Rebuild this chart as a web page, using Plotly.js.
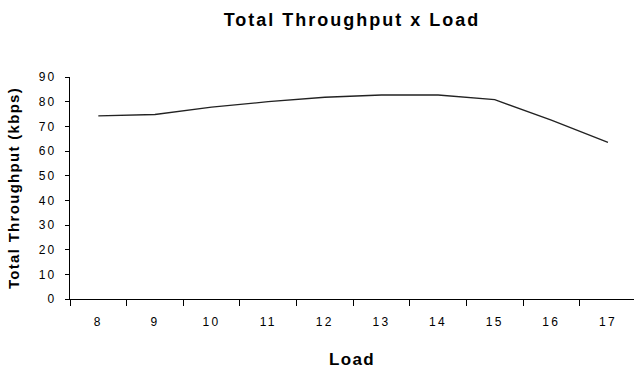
<!DOCTYPE html>
<html>
<head>
<meta charset="utf-8">
<script src="https://cdn.plot.ly/plotly-3.0.1.min.js"></script>
<style>
  html, body { margin: 0; padding: 0; background: #fff; }
  #chart { width: 634px; height: 371px; }
  /* wide tracking on the bold titles and the tick numbers */
  .gtitle { letter-spacing: 2px; }
  .g-xtitle text, .g-ytitle text { letter-spacing: 1.3px; }
  .xtick text, .ytick text { letter-spacing: 2.3px; }
</style>
</head>
<body>
<div id="chart"></div>
<script>
// Load levels (categories) and total throughput in kbps
const loadLevels = ['8', '9', '10', '11', '12', '13', '14', '15', '16', '17'];
const throughputKbps = [74.2, 74.8, 77.8, 80.0, 81.8, 82.7, 82.7, 80.8, 72.5, 63.5];
const yTickValues = [0, 10, 20, 30, 40, 50, 60, 70, 80, 90];

const trace = {
  x: loadLevels,
  y: throughputKbps,
  type: 'scatter',
  mode: 'lines',
  line: { color: '#222222', width: 1.3 },
  hoverinfo: 'x+y'
};

const axisFont = { family: 'Arial, "Liberation Sans", sans-serif', size: 12, color: '#000' };

const layout = {
  width: 634,
  height: 371,
  paper_bgcolor: '#ffffff',
  plot_bgcolor: '#ffffff',
  margin: { l: 70, r: 0, t: 77, b: 72, pad: 0 },
  showlegend: false,
  font: axisFont,
  title: {
    text: 'Total Throughput x Load',
    font: { family: 'Arial, "Liberation Sans", sans-serif', size: 18, weight: 'bold', color: '#000' },
    x: 0.5,
    xanchor: 'center',
    xref: 'paper',
    y: 1 - 20 / 371,
    yanchor: 'middle',
    yref: 'container'
  },
  xaxis: {
    type: 'category',
    range: [-0.5, 9.46],
    tickson: 'boundaries',
    ticks: 'outside',
    ticklen: 6,
    tickwidth: 1,
    tickcolor: '#000',
    ticklabelstandoff: 12,
    showline: true,
    linecolor: '#000',
    linewidth: 1,
    showgrid: false,
    zeroline: false,
    tickfont: axisFont,
    fixedrange: true,
    title: {
      text: 'Load',
      font: { family: 'Arial, "Liberation Sans", sans-serif', size: 17, weight: 'bold', color: '#000' },
      standoff: 24
    }
  },
  yaxis: {
    range: [0, 90],
    tickvals: yTickValues,
    ticks: 'outside',
    ticklen: 4,
    tickwidth: 1,
    tickcolor: '#000',
    ticklabelstandoff: 6,
    showline: true,
    linecolor: '#000',
    linewidth: 1,
    showgrid: false,
    zeroline: false,
    tickfont: axisFont,
    fixedrange: true,
    title: {
      text: 'Total Throughput (kbps)',
      font: { family: 'Arial, "Liberation Sans", sans-serif', size: 15, weight: 'bold', color: '#000' },
      standoff: 15
    }
  }
};

Plotly.newPlot('chart', [trace], layout, { displayModeBar: false, staticPlot: true });
</script>
</body>
</html>
